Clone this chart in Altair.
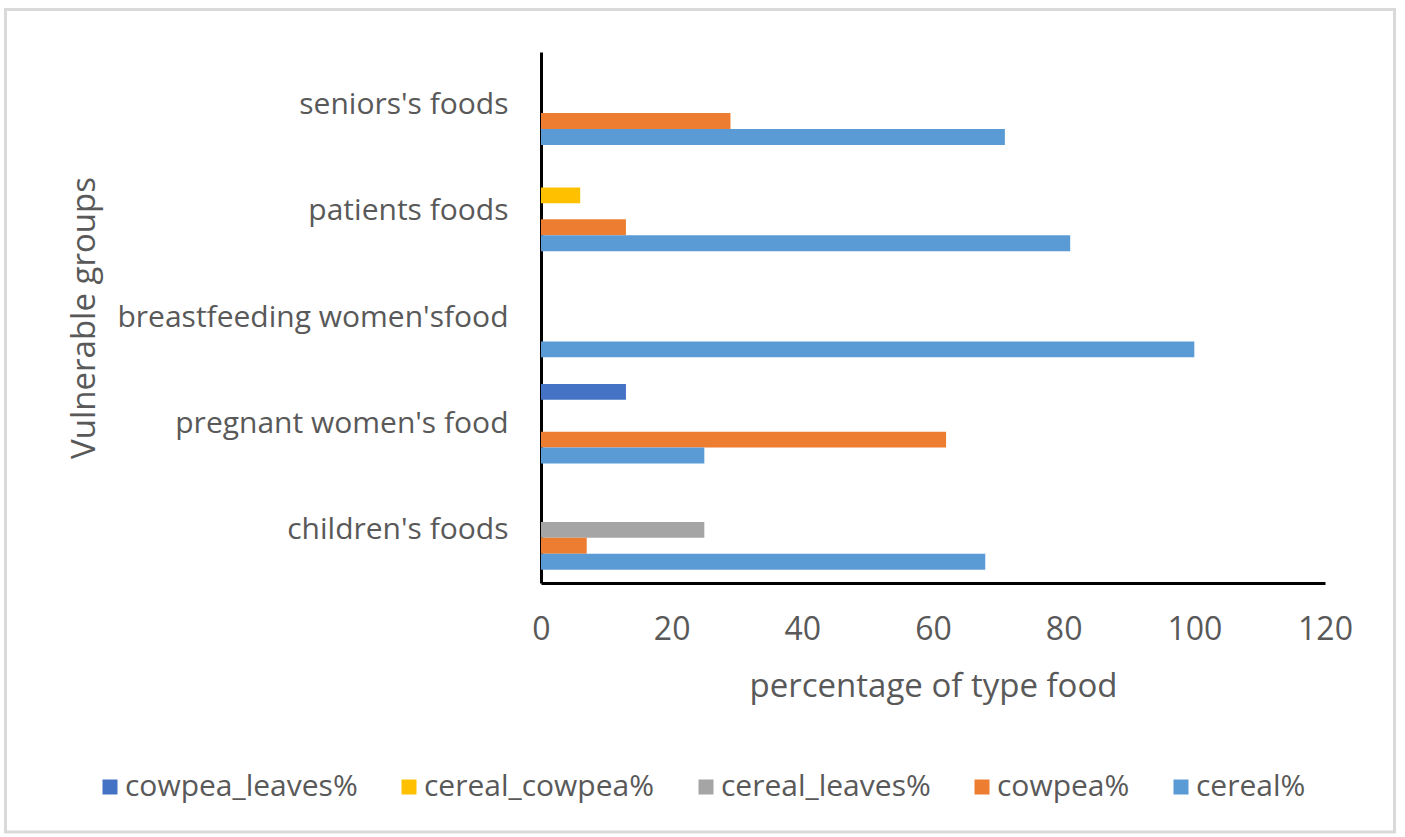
import altair as alt
import pandas as pd

# Vulnerable groups (bottom to top as drawn) and food types
groups = [
    "children's foods",
    "pregnant women's food",
    "breastfeeding women'sfood",
    "patients foods",
    "seniors's foods",
]
series = ["cowpea_leaves%", "cereal_cowpea%", "cereal_leaves%", "cowpea%", "cereal%"]
colors = ["#4472C4", "#FFC000", "#A5A5A5", "#ED7D31", "#5B9BD5"]

# Percentage of each type of food, one value per group
cereal = [68, 25, 100, 81, 71]
cowpea = [7, 62, 0, 13, 29]
cereal_leaves = [25, 0, 0, 0, 0]
cereal_cowpea = [0, 0, 0, 6, 0]
cowpea_leaves = [0, 13, 0, 0, 0]

values_by_series = {
    "cowpea_leaves%": cowpea_leaves,
    "cereal_cowpea%": cereal_cowpea,
    "cereal_leaves%": cereal_leaves,
    "cowpea%": cowpea,
    "cereal%": cereal,
}

rows = []
for s in series:
    for g, v in zip(groups, values_by_series[s]):
        if v > 0:
            rows.append({"group": g, "food": s, "pct": v})
df = pd.DataFrame(rows)

FONT = "Open Sans"
TEXT = "#595959"

bars = alt.Chart(df).mark_bar().encode(
    x=alt.X(
        "pct:Q",
        scale=alt.Scale(domain=[0, 120], nice=False),
        axis=alt.Axis(
            values=[0, 20, 40, 60, 80, 100, 120],
            title="percentage of type food",
            titleFontSize=33,
            titleBaseline="alphabetic",
            titleY=113,
            labelPadding=31,
            labelFlush=False,
            labelFontSize=32,
        ),
    ),
    y=alt.Y(
        "group:N",
        sort=list(reversed(groups)),
        scale=alt.Scale(paddingInner=0.25, paddingOuter=0.125),
        axis=alt.Axis(
            title="Vulnerable groups",
            titleFontSize=33,
            titleAngle=-90,
            titleBaseline="alphabetic",
            titleAlign="center",
            titleX=-447,
            titleY=265.5,
            labelPadding=33,
            labelLimit=600,
            labelFontSize=30,
        ),
    ),
    yOffset=alt.YOffset("food:N", sort=series, scale=alt.Scale(domain=series, paddingInner=0, paddingOuter=0)),
    color=alt.Color(
        "food:N",
        scale=alt.Scale(domain=series, range=colors),
        legend=alt.Legend(
            title=None,
            orient="none",
            legendX=-446,
            legendY=720,
            padding=0,
            direction="horizontal",
            symbolType="square",
            symbolSize=225,
            symbolStrokeWidth=0,
            labelFontSize=30,
            labelFont=FONT,
            labelColor=TEXT,
            labelLimit=500,
            labelOffset=0,
            columnPadding=36,
        ),
    ),
)

# light grey frame around the whole figure
frame = alt.Chart(alt.Data(values=[{"f": 1}])).mark_rect(
    filled=False, stroke="#d9d9d9", strokeWidth=3
).encode(
    x=alt.value(-535.5),
    x2=alt.value(853.5),
    y=alt.value(-42.5),
    y2=alt.value(780),
)

chart = (
    alt.layer(frame, bars)
    .properties(
        width=784,
        height=531,
        autosize=alt.AutoSizeParams(type="none"),
        padding={"left": 541, "top": 52, "right": 80, "bottom": 254},
        background="white",
    )
    .configure_view(stroke=None)
    .configure_axis(
        domainColor="black",
        domainWidth=3,
        ticks=False,
        grid=False,
        labelFont=FONT,
        labelColor=TEXT,
        titleFont=FONT,
        titleColor=TEXT,
        titleFontWeight="normal",
    )
)

chart.save("out.html", embed_options={"renderer": "svg", "actions": False})
